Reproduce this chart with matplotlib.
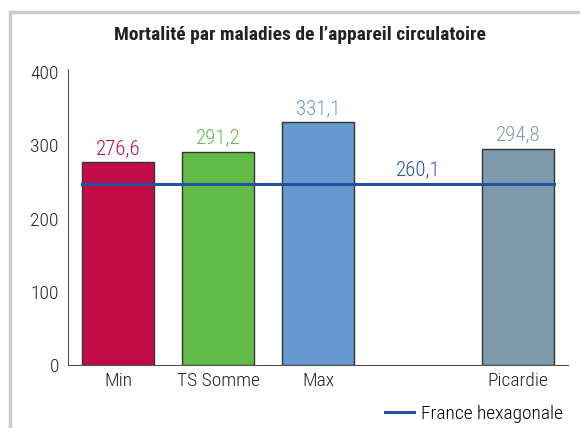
import matplotlib.pyplot as plt
from matplotlib.patches import Rectangle
from matplotlib.lines import Line2D

# données
categories = ["Min", "TS Somme", "Max", "", "Picardie"]
valeurs = [276.6, 291.2, 331.1, None, 294.8]
etiquettes = ["276,6", "291,2", "331,1", "", "294,8"]
couleurs = ["#c30b47", "#62bb47", "#6699cf", None, "#7f9aaa"]
france_valeur = 247
france_etiquette = "260,1"

plt.rcParams['font.family'] = ['Roboto Condensed', 'Archivo Narrow', 'DejaVu Sans']

W, H = 580, 428
fig = plt.figure(figsize=(W / 100, H / 100), dpi=100)
ax = fig.add_axes([68/W, 1 - 365/H, 500/W, (365 - 72)/H])

# cadre gris
fig.patches.append(Rectangle((10/W, -0.1), 1.2, (H - 12)/H + 0.1, transform=fig.transFigure,
                             fill=False, edgecolor="#cccccc", lw=2.5))

for i, (v, c, lab) in enumerate(zip(valeurs, couleurs, etiquettes)):
    if v is None:
        continue
    ax.bar(i, v, width=0.72, color=c, edgecolor="#333333", linewidth=1, zorder=2)
    ax.text(i, v + 6, lab, ha="center", va="bottom", color=c, fontsize=15, fontweight="light")

# ligne France hexagonale
ax.plot([-0.36, 4.36], [france_valeur, france_valeur], color="#2352a3", lw=2.2, zorder=3)
ax.text(3.0, france_valeur + 6, france_etiquette, ha="center", va="bottom",
        color="#2352a3", fontsize=15, fontweight="light")

ax.set_xlim(-0.5, 4.5)
ax.set_ylim(0, 400)
ax.set_yticks([0, 100, 200, 300, 400])
ax.set_xticks(range(len(categories)))
ax.set_xticklabels(categories)
ax.tick_params(axis="both", length=0, labelsize=14, colors="#222222")
ax.tick_params(axis="y", pad=6.5)
ax.tick_params(axis="x", pad=5)
for t in ax.get_xticklabels() + ax.get_yticklabels():
    t.set_fontweight("light")
for s in ["top", "right"]:
    ax.spines[s].set_visible(False)
ax.spines["left"].set_color("#555555")
ax.spines["bottom"].set_color("#555555")
ax.spines["left"].set_bounds(0, 404)

fig.text(300/W, 1 - 35/H, "Mortalité par maladies de l’appareil circulatoire",
         ha="center", va="center", fontsize=14, fontweight="bold", color="#222222")

fig.legend(handles=[Line2D([], [], color="#2352a3", lw=2.2)], labels=["France hexagonale"],
           loc="center right", bbox_to_anchor=(563/W, 1 - 414/H), frameon=False,
           fontsize=14, handlelength=1.5, handletextpad=0.35, borderaxespad=0, borderpad=0,
           prop={"size": 14, "weight": "light"})

fig.savefig("out.png", dpi=100)
